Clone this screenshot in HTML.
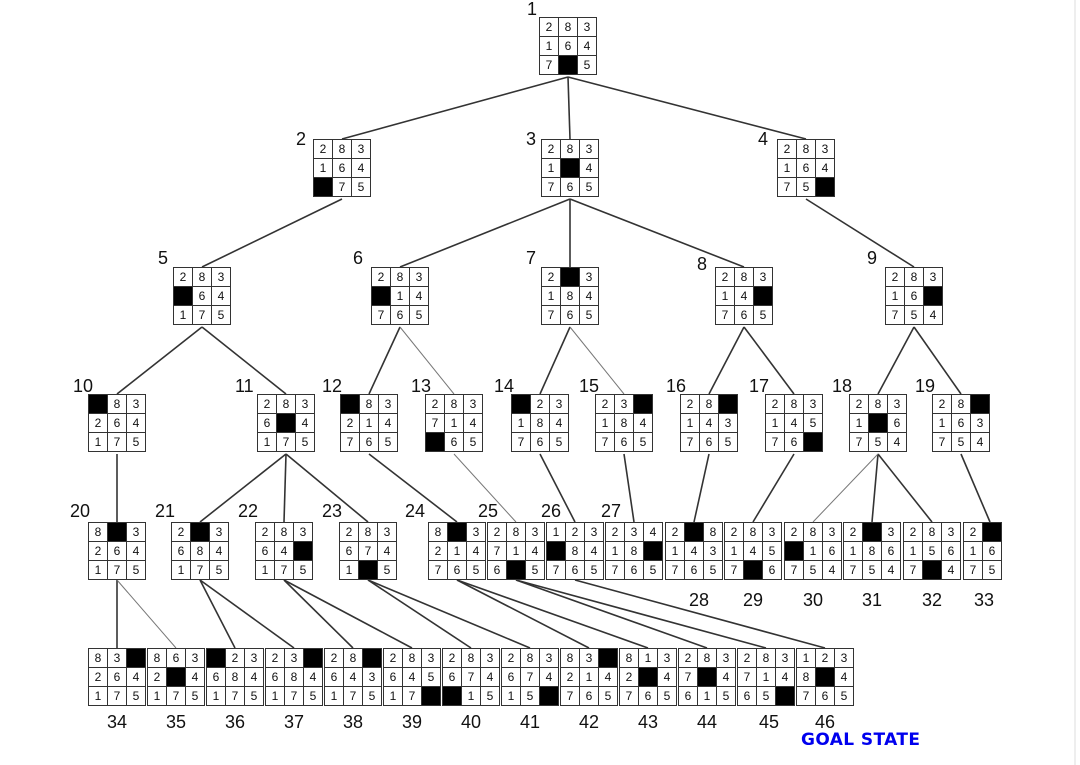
<!DOCTYPE html>
<html><head><meta charset="utf-8"><style>
body{margin:0;width:1080px;height:765px;background:#fff;position:relative;overflow:hidden;font-family:"Liberation Sans",sans-serif}
svg{position:absolute;left:0;top:0}
.b{position:absolute;width:56px;height:56px;display:grid;grid-template-columns:18px 18px 18px;grid-template-rows:18px 18px 18px;gap:1px;padding:1px;background:#333}
.b i{font-style:normal;background:#fff;font-size:12px;line-height:18px;text-align:center;color:#111}
.b i.k{background:#000}
.l{position:absolute;font-size:18px;color:#111;line-height:17px}
.c{position:absolute;font-size:18px;color:#111;width:58px;text-align:center}
</style></head><body>
<svg width="1080" height="765">
<line x1="1075" y1="0" x2="1075" y2="765" stroke="#ddd" stroke-width="1"/>
<g stroke="#333" stroke-width="1.6" fill="none">
<line x1="568" y1="77" x2="342" y2="139"/><line x1="568" y1="77" x2="570" y2="139"/><line x1="568" y1="77" x2="806" y2="139"/>
<line x1="342" y1="199" x2="202" y2="267"/>
<line x1="570" y1="199" x2="400" y2="267"/><line x1="570" y1="199" x2="570" y2="267"/><line x1="570" y1="199" x2="744" y2="267"/>
<line x1="806" y1="199" x2="914" y2="267"/>
<line x1="202" y1="327" x2="117" y2="394"/><line x1="202" y1="327" x2="286" y2="394"/>
<line x1="400" y1="327" x2="369" y2="394"/>
<line x1="570" y1="327" x2="540" y2="394"/>
<line x1="744" y1="327" x2="709" y2="394"/><line x1="744" y1="327" x2="794" y2="394"/>
<line x1="914" y1="327" x2="878" y2="394"/><line x1="914" y1="327" x2="961" y2="394"/>
<line x1="117" y1="454" x2="117" y2="522"/>
<line x1="286" y1="454" x2="200" y2="522"/><line x1="286" y1="454" x2="284" y2="522"/><line x1="286" y1="454" x2="368" y2="522"/>
<line x1="369" y1="454" x2="457" y2="522"/>
<line x1="540" y1="454" x2="575" y2="522"/>
<line x1="624" y1="454" x2="634" y2="522"/>
<line x1="709" y1="454" x2="694" y2="522"/>
<line x1="794" y1="454" x2="753" y2="522"/>
<line x1="878" y1="454" x2="872" y2="522"/><line x1="878" y1="454" x2="932" y2="522"/>
<line x1="961" y1="454" x2="990" y2="522"/>
<line x1="117" y1="580" x2="117" y2="648"/>
<line x1="200" y1="580" x2="235" y2="648"/><line x1="200" y1="580" x2="294" y2="648"/>
<line x1="284" y1="580" x2="353" y2="648"/><line x1="284" y1="580" x2="412" y2="648"/>
<line x1="368" y1="580" x2="471" y2="648"/><line x1="368" y1="580" x2="530" y2="648"/>
<line x1="457" y1="580" x2="589" y2="648"/><line x1="457" y1="580" x2="648" y2="648"/>
<line x1="516" y1="580" x2="707" y2="648"/><line x1="516" y1="580" x2="766" y2="648"/>
<line x1="575" y1="580" x2="825" y2="648"/>
</g>
<g stroke="#777" stroke-width="1" fill="none">
<line x1="400" y1="327" x2="454" y2="394"/>
<line x1="570" y1="327" x2="624" y2="394"/>
<line x1="454" y1="454" x2="516" y2="522"/>
<line x1="878" y1="454" x2="813" y2="522"/>
<line x1="117" y1="580" x2="176" y2="648"/>
</g>
</svg>

<div class="b" style="left:539px;top:17px"><i>2</i><i>8</i><i>3</i><i>1</i><i>6</i><i>4</i><i>7</i><i class="k"></i><i>5</i></div>
<div class="b" style="left:313px;top:139px"><i>2</i><i>8</i><i>3</i><i>1</i><i>6</i><i>4</i><i class="k"></i><i>7</i><i>5</i></div>
<div class="b" style="left:541px;top:139px"><i>2</i><i>8</i><i>3</i><i>1</i><i class="k"></i><i>4</i><i>7</i><i>6</i><i>5</i></div>
<div class="b" style="left:777px;top:139px"><i>2</i><i>8</i><i>3</i><i>1</i><i>6</i><i>4</i><i>7</i><i>5</i><i class="k"></i></div>
<div class="b" style="left:173px;top:267px"><i>2</i><i>8</i><i>3</i><i class="k"></i><i>6</i><i>4</i><i>1</i><i>7</i><i>5</i></div>
<div class="b" style="left:371px;top:267px"><i>2</i><i>8</i><i>3</i><i class="k"></i><i>1</i><i>4</i><i>7</i><i>6</i><i>5</i></div>
<div class="b" style="left:541px;top:267px"><i>2</i><i class="k"></i><i>3</i><i>1</i><i>8</i><i>4</i><i>7</i><i>6</i><i>5</i></div>
<div class="b" style="left:715px;top:267px"><i>2</i><i>8</i><i>3</i><i>1</i><i>4</i><i class="k"></i><i>7</i><i>6</i><i>5</i></div>
<div class="b" style="left:885px;top:267px"><i>2</i><i>8</i><i>3</i><i>1</i><i>6</i><i class="k"></i><i>7</i><i>5</i><i>4</i></div>

<div class="b" style="left:88px;top:394px"><i class="k"></i><i>8</i><i>3</i><i>2</i><i>6</i><i>4</i><i>1</i><i>7</i><i>5</i></div>
<div class="b" style="left:257px;top:394px"><i>2</i><i>8</i><i>3</i><i>6</i><i class="k"></i><i>4</i><i>1</i><i>7</i><i>5</i></div>
<div class="b" style="left:340px;top:394px"><i class="k"></i><i>8</i><i>3</i><i>2</i><i>1</i><i>4</i><i>7</i><i>6</i><i>5</i></div>
<div class="b" style="left:425px;top:394px"><i>2</i><i>8</i><i>3</i><i>7</i><i>1</i><i>4</i><i class="k"></i><i>6</i><i>5</i></div>
<div class="b" style="left:511px;top:394px"><i class="k"></i><i>2</i><i>3</i><i>1</i><i>8</i><i>4</i><i>7</i><i>6</i><i>5</i></div>
<div class="b" style="left:595px;top:394px"><i>2</i><i>3</i><i class="k"></i><i>1</i><i>8</i><i>4</i><i>7</i><i>6</i><i>5</i></div>
<div class="b" style="left:680px;top:394px"><i>2</i><i>8</i><i class="k"></i><i>1</i><i>4</i><i>3</i><i>7</i><i>6</i><i>5</i></div>
<div class="b" style="left:765px;top:394px"><i>2</i><i>8</i><i>3</i><i>1</i><i>4</i><i>5</i><i>7</i><i>6</i><i class="k"></i></div>
<div class="b" style="left:849px;top:394px"><i>2</i><i>8</i><i>3</i><i>1</i><i class="k"></i><i>6</i><i>7</i><i>5</i><i>4</i></div>
<div class="b" style="left:932px;top:394px"><i>2</i><i>8</i><i class="k"></i><i>1</i><i>6</i><i>3</i><i>7</i><i>5</i><i>4</i></div>

<div class="b" style="left:88px;top:522px"><i>8</i><i class="k"></i><i>3</i><i>2</i><i>6</i><i>4</i><i>1</i><i>7</i><i>5</i></div>
<div class="b" style="left:171px;top:522px"><i>2</i><i class="k"></i><i>3</i><i>6</i><i>8</i><i>4</i><i>1</i><i>7</i><i>5</i></div>
<div class="b" style="left:255px;top:522px"><i>2</i><i>8</i><i>3</i><i>6</i><i>4</i><i class="k"></i><i>1</i><i>7</i><i>5</i></div>
<div class="b" style="left:339px;top:522px"><i>2</i><i>8</i><i>3</i><i>6</i><i>7</i><i>4</i><i>1</i><i class="k"></i><i>5</i></div>
<div class="b" style="left:428px;top:522px"><i>8</i><i class="k"></i><i>3</i><i>2</i><i>1</i><i>4</i><i>7</i><i>6</i><i>5</i></div>
<div class="b" style="left:487px;top:522px"><i>2</i><i>8</i><i>3</i><i>7</i><i>1</i><i>4</i><i>6</i><i class="k"></i><i>5</i></div>
<div class="b" style="left:546px;top:522px"><i>1</i><i>2</i><i>3</i><i class="k"></i><i>8</i><i>4</i><i>7</i><i>6</i><i>5</i></div>
<div class="b" style="left:605px;top:522px"><i>2</i><i>3</i><i>4</i><i>1</i><i>8</i><i class="k"></i><i>7</i><i>6</i><i>5</i></div>
<div class="b" style="left:665px;top:522px"><i>2</i><i class="k"></i><i>8</i><i>1</i><i>4</i><i>3</i><i>7</i><i>6</i><i>5</i></div>
<div class="b" style="left:724px;top:522px"><i>2</i><i>8</i><i>3</i><i>1</i><i>4</i><i>5</i><i>7</i><i class="k"></i><i>6</i></div>
<div class="b" style="left:784px;top:522px"><i>2</i><i>8</i><i>3</i><i class="k"></i><i>1</i><i>6</i><i>7</i><i>5</i><i>4</i></div>
<div class="b" style="left:843px;top:522px"><i>2</i><i class="k"></i><i>3</i><i>1</i><i>8</i><i>6</i><i>7</i><i>5</i><i>4</i></div>
<div class="b" style="left:903px;top:522px"><i>2</i><i>8</i><i>3</i><i>1</i><i>5</i><i>6</i><i>7</i><i class="k"></i><i>4</i></div>
<div class="b" style="left:963px;top:522px;width:37px;grid-template-columns:18px 18px"><i>2</i><i class="k"></i><i>1</i><i>6</i><i>7</i><i>5</i></div>

<div class="b" style="left:88px;top:648px"><i>8</i><i>3</i><i class="k"></i><i>2</i><i>6</i><i>4</i><i>1</i><i>7</i><i>5</i></div>
<div class="b" style="left:147px;top:648px"><i>8</i><i>6</i><i>3</i><i>2</i><i class="k"></i><i>4</i><i>1</i><i>7</i><i>5</i></div>
<div class="b" style="left:206px;top:648px"><i class="k"></i><i>2</i><i>3</i><i>6</i><i>8</i><i>4</i><i>1</i><i>7</i><i>5</i></div>
<div class="b" style="left:265px;top:648px"><i>2</i><i>3</i><i class="k"></i><i>6</i><i>8</i><i>4</i><i>1</i><i>7</i><i>5</i></div>
<div class="b" style="left:324px;top:648px"><i>2</i><i>8</i><i class="k"></i><i>6</i><i>4</i><i>3</i><i>1</i><i>7</i><i>5</i></div>
<div class="b" style="left:383px;top:648px"><i>2</i><i>8</i><i>3</i><i>6</i><i>4</i><i>5</i><i>1</i><i>7</i><i class="k"></i></div>
<div class="b" style="left:442px;top:648px"><i>2</i><i>8</i><i>3</i><i>6</i><i>7</i><i>4</i><i class="k"></i><i>1</i><i>5</i></div>
<div class="b" style="left:501px;top:648px"><i>2</i><i>8</i><i>3</i><i>6</i><i>7</i><i>4</i><i>1</i><i>5</i><i class="k"></i></div>
<div class="b" style="left:560px;top:648px"><i>8</i><i>3</i><i class="k"></i><i>2</i><i>1</i><i>4</i><i>7</i><i>6</i><i>5</i></div>
<div class="b" style="left:619px;top:648px"><i>8</i><i>1</i><i>3</i><i>2</i><i class="k"></i><i>4</i><i>7</i><i>6</i><i>5</i></div>
<div class="b" style="left:678px;top:648px"><i>2</i><i>8</i><i>3</i><i>7</i><i class="k"></i><i>4</i><i>6</i><i>1</i><i>5</i></div>
<div class="b" style="left:737px;top:648px"><i>2</i><i>8</i><i>3</i><i>7</i><i>1</i><i>4</i><i>6</i><i>5</i><i class="k"></i></div>
<div class="b" style="left:796px;top:648px"><i>1</i><i>2</i><i>3</i><i>8</i><i class="k"></i><i>4</i><i>7</i><i>6</i><i>5</i></div>

<div class="l" style="left:527px;top:1px">1</div>
<div class="l" style="left:296px;top:131px">2</div>
<div class="l" style="left:526px;top:131px">3</div>
<div class="l" style="left:758px;top:131px">4</div>
<div class="l" style="left:158px;top:250px">5</div>
<div class="l" style="left:353px;top:250px">6</div>
<div class="l" style="left:526px;top:250px">7</div>
<div class="l" style="left:697px;top:256px">8</div>
<div class="l" style="left:867px;top:250px">9</div>
<div class="l" style="left:73px;top:378px">10</div>
<div class="l" style="left:235px;top:378px">11</div>
<div class="l" style="left:322px;top:378px">12</div>
<div class="l" style="left:411px;top:378px">13</div>
<div class="l" style="left:494px;top:378px">14</div>
<div class="l" style="left:579px;top:378px">15</div>
<div class="l" style="left:666px;top:378px">16</div>
<div class="l" style="left:749px;top:378px">17</div>
<div class="l" style="left:832px;top:378px">18</div>
<div class="l" style="left:915px;top:378px">19</div>
<div class="l" style="left:70px;top:503px">20</div>
<div class="l" style="left:155px;top:503px">21</div>
<div class="l" style="left:238px;top:503px">22</div>
<div class="l" style="left:322px;top:503px">23</div>
<div class="l" style="left:405px;top:503px">24</div>
<div class="l" style="left:478px;top:503px">25</div>
<div class="l" style="left:541px;top:503px">26</div>
<div class="l" style="left:601px;top:503px">27</div>
<div class="c" style="left:670px;top:590px">28</div>
<div class="c" style="left:724px;top:590px">29</div>
<div class="c" style="left:784px;top:590px">30</div>
<div class="c" style="left:843px;top:590px">31</div>
<div class="c" style="left:903px;top:590px">32</div>
<div class="c" style="left:955px;top:590px">33</div>
<div class="c" style="left:88px;top:712px">34</div>
<div class="c" style="left:147px;top:712px">35</div>
<div class="c" style="left:206px;top:712px">36</div>
<div class="c" style="left:265px;top:712px">37</div>
<div class="c" style="left:324px;top:712px">38</div>
<div class="c" style="left:383px;top:712px">39</div>
<div class="c" style="left:442px;top:712px">40</div>
<div class="c" style="left:501px;top:712px">41</div>
<div class="c" style="left:560px;top:712px">42</div>
<div class="c" style="left:619px;top:712px">43</div>
<div class="c" style="left:678px;top:712px">44</div>
<div class="c" style="left:740px;top:712px">45</div>
<div class="c" style="left:796px;top:712px">46</div>
<div style="position:absolute;left:801px;top:730px;font-family:'DejaVu Sans',sans-serif;font-weight:bold;font-size:17px;letter-spacing:0.4px;color:#0000ee">GOAL STATE</div>
</body></html>
